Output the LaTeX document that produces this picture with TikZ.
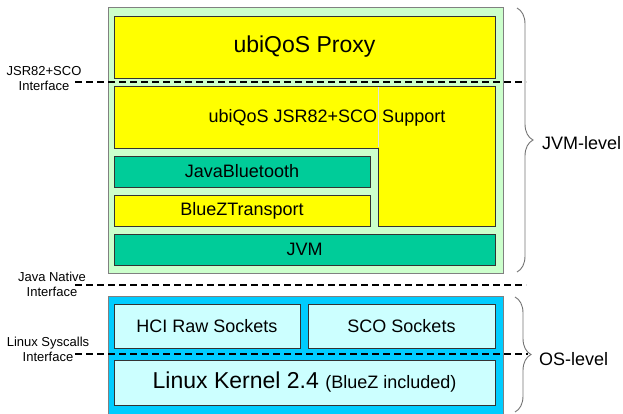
\documentclass[tikz,border=0pt]{standalone}
\usepackage{fontspec}
\setmainfont{Liberation Sans}
\usetikzlibrary{decorations.pathreplacing}

\definecolor{jvmgreen}{HTML}{CCFFCC}
\definecolor{layeryellow}{HTML}{FFFF00}
\definecolor{layerteal}{HTML}{00CC99}
\definecolor{oscyan}{HTML}{00CCFF}
\definecolor{layercyan}{HTML}{CCFFFF}
\definecolor{edgegray}{HTML}{333333}

\begin{document}
\begin{tikzpicture}[x=1pt,y=-1pt,
        layer/.style={draw=edgegray, line width=0.8pt, inner sep=0pt,
            font=\fontsize{18}{21}\selectfont},
        iface/.style={line width=1.5pt, dash pattern=on 7pt off 4pt},
        note/.style={align=center, inner sep=0pt, font=\fontsize{13}{15}\selectfont},
        level/.style={anchor=west, inner sep=0pt, font=\fontsize{18}{21}\selectfont},
        bracket/.style={draw=black!55, line width=0.9pt,
            decorate, decoration={brace, amplitude=16pt}}]
        \useasboundingbox (0,0) rectangle (623,414);

        % JVM level
        \draw[draw=gray, line width=1pt, fill=jvmgreen] (108,8) rectangle (503,273);
        \node[layer, fill=layeryellow, minimum width=381pt, minimum height=62pt,
            font=\fontsize{23}{27}\selectfont] (proxy) at (304.5,47) {ubiQoS Proxy};
        \draw[draw=edgegray, line width=0.8pt, fill=layeryellow]
            (114,86) -- (495,86) -- (495,226) -- (378,226) -- (378,148) -- (114,148) -- cycle;
        \draw[draw=black!12, line width=0.5pt] (378,87) -- (378,147);
        \node[inner sep=0pt, font=\fontsize{18}{21}\selectfont] (support) at (327,118)
            {ubiQoS JSR82+SCO Support};
        \node[layer, fill=layerteal, minimum width=256pt, minimum height=31pt]
            (javabt) at (242,171.5) {JavaBluetooth};
        \node[layer, fill=layeryellow, minimum width=256pt, minimum height=31pt]
            (bluez) at (242,210.5) {BlueZTransport};
        \node[layer, fill=layerteal, minimum width=381pt, minimum height=31pt]
            (jvm) at (304.5,249.5) {JVM};

        % OS level
        \draw[draw=gray, line width=1pt, fill=oscyan] (108,296) rectangle (503,420);
        \node[layer, fill=layercyan, minimum width=186pt, minimum height=44pt]
            (hci) at (207,326) {HCI Raw Sockets};
        \node[layer, fill=layercyan, minimum width=187pt, minimum height=44pt]
            (sco) at (401.5,326) {SCO Sockets};
        \node[layer, fill=layercyan, minimum width=381pt, minimum height=45pt,
            font=\fontsize{23}{27}\selectfont] (kernel) at (304.5,382.5)
            {Linux Kernel 2.4 {\fontsize{18}{21}\selectfont (BlueZ included)}};

        % Interfaces
        \coordinate (jsr_l) at (75,82);   \coordinate (jsr_r) at (526,82);
        \coordinate (jni_l) at (75,285);  \coordinate (jni_r) at (526,285);
        \coordinate (sys_l) at (75,354);  \coordinate (sys_r) at (528,354);
        \draw[iface] (jsr_l) -- (jsr_r);
        \draw[iface] (jni_l) -- (jni_r);
        \draw[iface] (sys_l) -- (sys_r);
        \node[note] (jsrnote) at (44,79) {JSR82+SCO\\Interface};
        \node[note] (jninote) at (52,284) {Java Native\\Interface};
        \node[note] (sysnote) at (48,349.5) {Linux Syscalls\\Interface};

        % Levels
        \coordinate (jvm_top) at (517,8);  \coordinate (jvm_bot) at (517,272);
        \coordinate (os_top) at (515,297); \coordinate (os_bot) at (515,412);
        \draw[bracket] (jvm_top) -- (jvm_bot);
        \draw[bracket] (os_top) -- (os_bot);
        \node[level] (jvmlevel) at (542,143) {JVM-level};
        \node[level] (oslevel) at (539,359) {OS-level};
\end{tikzpicture}
\end{document}
